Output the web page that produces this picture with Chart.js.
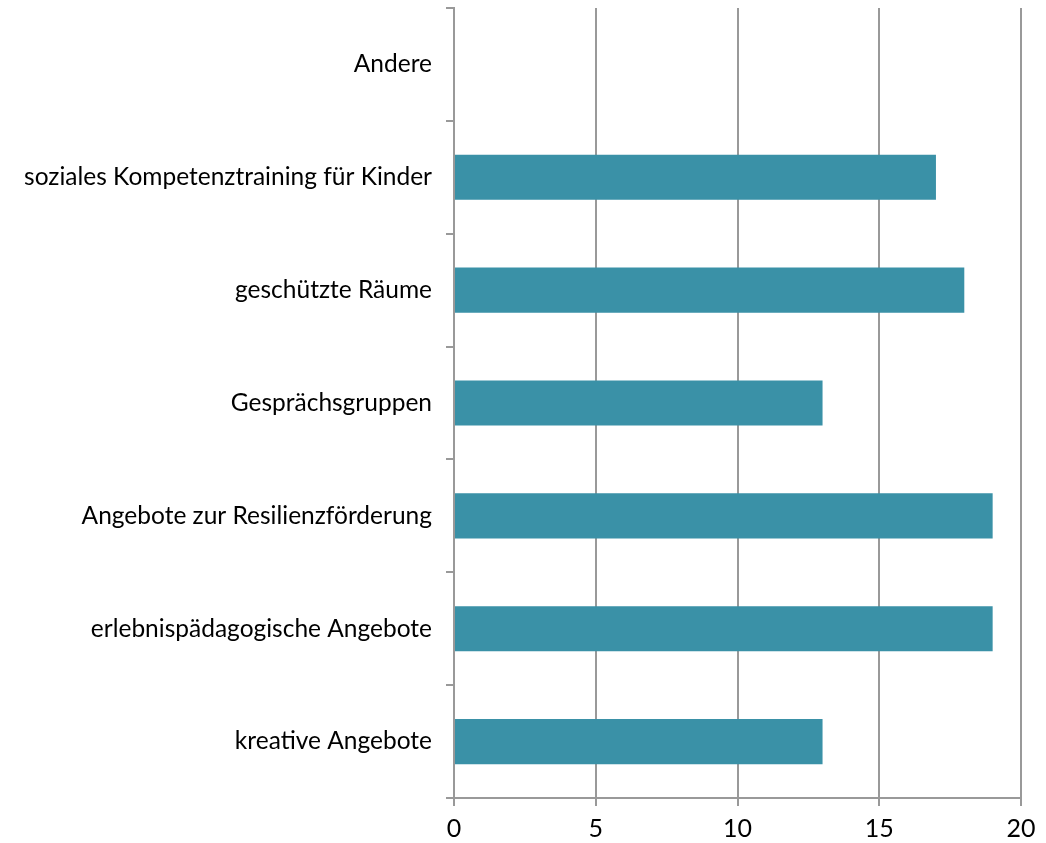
<!DOCTYPE html>
<html>
<head>
<meta charset="utf-8">
<script src="https://cdn.jsdelivr.net/npm/chart.js@4/dist/chart.umd.min.js"></script>
<style>
  html, body { margin: 0; padding: 0; background: #fff; }
  #wrap { width: 1046px; height: 843px; }
</style>
</head>
<body>
<div id="wrap"><canvas id="chart" width="1046" height="843"></canvas></div>
<script>
const categories = [
  'Andere',
  'soziales Kompetenztraining für Kinder',
  'geschützte Räume',
  'Gesprächsgruppen',
  'Angebote zur Resilienzförderung',
  'erlebnispädagogische Angebote',
  'kreative Angebote'
];
const values = [0, 17, 18, 13, 19, 19, 13];
const xTicks = [0, 5, 10, 15, 20];

const gridColor = '#999999';
const yFont = { family: 'Lato, "Open Sans", sans-serif', size: 24.5 };
const xFont = { family: 'Lato, "Open Sans", sans-serif', size: 25 };

new Chart(document.getElementById('chart').getContext('2d'), {
  type: 'bar',
  data: {
    labels: categories,
    datasets: [{
      data: values,
      backgroundColor: '#3A91A7',
      borderWidth: 0,
      barPercentage: 0.4,
      categoryPercentage: 1
    }]
  },
  options: {
    indexAxis: 'y',
    responsive: false,
    animation: false,
    layout: { padding: { top: 8, right: 25, left: 0, bottom: 0 } },
    plugins: { legend: { display: false }, tooltip: { enabled: false } },
    scales: {
      x: {
        min: 0,
        max: 20,
        afterBuildTicks: axis => { axis.ticks = xTicks.map(v => ({ value: v })); },
        afterFit: axis => { axis.height = 45; axis.paddingLeft = 0; axis.paddingRight = 0; },
        grid: { color: gridColor, lineWidth: 2, tickLength: 8, drawOnChartArea: true },
        border: { color: gridColor, width: 2 },
        ticks: { color: '#000', font: xFont, padding: 8 }
      },
      y: {
        afterFit: axis => { axis.width = 454; axis.paddingTop = 0; axis.paddingBottom = 0; },
        grid: { color: gridColor, lineWidth: 2, tickLength: 8, drawOnChartArea: false, offset: true },
        border: { color: gridColor, width: 2 },
        ticks: { color: '#000', font: yFont, padding: 14 }
      }
    }
  }
});
</script>
</body>
</html>
